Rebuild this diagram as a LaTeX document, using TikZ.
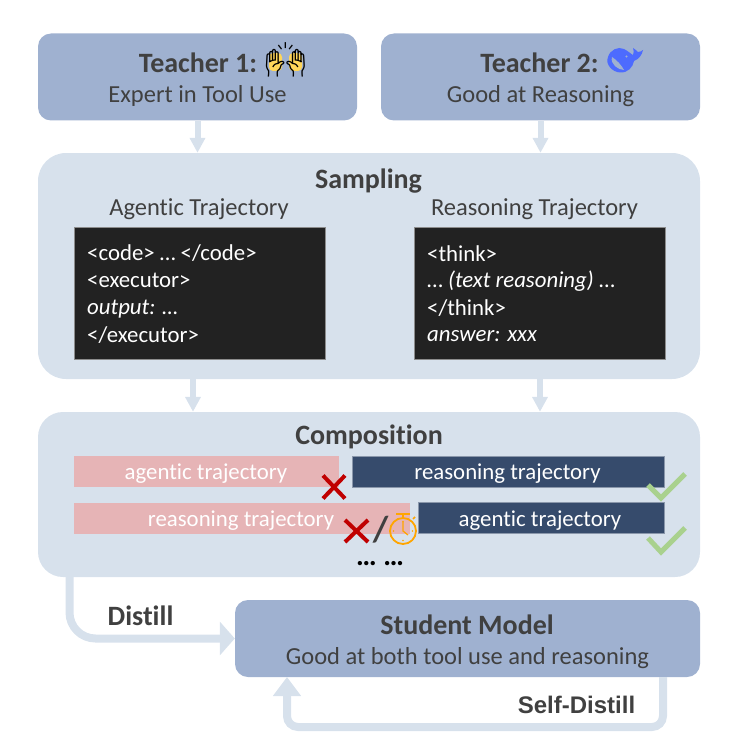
\documentclass[tikz,border=0pt]{standalone}
\usepackage{fontspec}
\setmainfont[Ligatures=NoCommon]{Carlito}
\newfontfamily\emojifont{Noto Emoji}
\newfontfamily\arialfont{Liberation Sans}
\usetikzlibrary{arrows.meta}
\definecolor{tealbox}{HTML}{9FB1D0}
\definecolor{paleblue}{HTML}{D7E1EC}
\definecolor{inktext}{HTML}{404040}
\definecolor{codebg}{HTML}{222222}
\definecolor{pinkbar}{HTML}{E6B4B6}
\definecolor{navybar}{HTML}{364B6C}
\definecolor{crossred}{HTML}{C00000}
\definecolor{tickgreen}{HTML}{A9D18E}
\definecolor{watchorange}{HTML}{FFA500}
\definecolor{whaleblue}{HTML}{4D6BFE}
\definecolor{handyellow}{HTML}{FFD65A}
\tikzset{
  modelbox/.style={fill=tealbox, rounded corners=13pt, minimum width=319pt, minimum height=87pt, inner sep=0pt},
  stagebox/.style={fill=paleblue, minimum width=662pt, inner sep=0pt},
  codebox/.style={fill=codebg, draw=black!45, line width=0.6pt, minimum width=251pt, minimum height=132pt, inner sep=0pt},
  codeline/.style={anchor=west, text=white, font=\fontsize{22.8}{26}\selectfont, inner sep=0pt},
  title/.style={text=inktext, font=\fontsize{28}{30}\selectfont\bfseries, inner sep=0pt},
  subtitle/.style={text=inktext, font=\fontsize{24.5}{28}\selectfont, inner sep=0pt},
  bar/.style={inner sep=0pt, minimum height=31pt},
  bartext/.style={text=white, font=\fontsize{22.8}{26}\selectfont, inner sep=0pt},
  pinkstyle/.style={bar, fill=pinkbar},
  navystyle/.style={bar, fill=navybar, draw=black!10!paleblue!60!navybar, line width=0.5pt},
  flow/.style={draw=paleblue, line width=6pt, -{Triangle[width=15pt,length=15pt]}},
  bigflow/.style={draw=paleblue, line width=8pt, rounded corners=26pt, -{Triangle[width=33pt,length=15pt]}},
  cross/.style={draw=crossred, line width=4pt},
  tick/.style={draw=tickgreen, line width=5pt}
}
\begin{document}
\begin{tikzpicture}[x=1pt,y=-1pt]
\useasboundingbox (0,0) rectangle (738,749);
% teachers
\node[modelbox] (teacherone) at (197.5,77) {};
\node[modelbox] (teachertwo) at (540.5,77) {};
\node[title] (teacheronetitle) at (198,63) {Teacher 1:};
\node[subtitle] (teacheronetext) at (197.5,96) {Expert in Tool Use};
\node[title] (teachertwotitle) at (539.5,63) {Teacher 2:};
\node[subtitle] (teachertwotext) at (540.5,96) {Good at Reasoning};
\fill[handyellow, rounded corners=4pt] (269,53) rectangle (282,71);
\fill[handyellow, rounded corners=4pt] (289,53) rectangle (302,71);
\node[text=black, font=\fontsize{34}{34}\emojifont, inner sep=0pt] (hands) at (285.5,60) {🙌};
% whale logo
\fill[whaleblue] (608,57) .. controls (610,50) and (618,46) .. (624,49) .. controls (628,51) and (631,54) .. (633,55)
  .. controls (634,53) and (634,50) .. (633,48) .. controls (636,50) and (637,51) .. (638,52)
  .. controls (640,52) and (642,51) .. (643,50) .. controls (642,55) and (639,59) .. (634,61)
  .. controls (633,67) and (628,73) .. (620,72.5) .. controls (612,72) and (605,64) .. (608,57) -- cycle;
\fill[tealbox] (612,57) .. controls (617,60) and (622,66) .. (624,70) .. controls (618,70) and (610,64) .. (612,57) -- cycle;
\fill[tealbox] (626.5,56.5) circle (1.2);
% sampling
\node[stagebox, rounded corners=28pt, minimum height=226pt] (sampling) at (369,266) {};
\node[title] (samplingtitle) at (368.5,181) {Sampling};
\node[subtitle] (agentichead) at (199,209) {Agentic Trajectory};
\node[subtitle] (reasoninghead) at (534.5,209) {Reasoning Trajectory};
\node[codebox] (agenticcode) at (199.5,293) {};
\node[codebox] (reasoningcode) at (540,293) {};
\node[codeline] (codeone) at (87,253.5) {<code> … </code>};
\node[codeline] (codetwo) at (87,280.5) {<executor>};
\node[codeline] (codethree) at (87,309) {\itshape output: …};
\node[codeline] (codefour) at (87,335) {</executor>};
\node[codeline] (thinkone) at (427,253.5) {<think>};
\node[codeline] (thinktwo) at (427,281.5) {… \textit{(text reasoning)} …};
\node[codeline] (thinkthree) at (427,308) {</think>};
\node[codeline] (thinkfour) at (427,336) {\itshape answer: xxx};
% composition
\node[stagebox, rounded corners=25pt, minimum height=165pt] (composition) at (369,494.5) {};
\node[title] (compositiontitle) at (369,437) {Composition};
\node[pinkstyle, minimum width=265pt] (pinkone) at (206.5,471.5) {};
\node[navystyle, minimum width=312pt] (navyone) at (508,471.5) {};
\node[pinkstyle, minimum width=336pt] (pinktwo) at (242,518) {};
\node[navystyle, minimum width=246pt] (navytwo) at (541,518) {};
\node[bartext] (pinkonetext) at (206,474) {agentic trajectory};
\node[bartext] (navyonetext) at (507.5,474) {reasoning trajectory};
\node[bartext] (pinktwotext) at (241,521) {reasoning trajectory};
\node[bartext] (navytwotext) at (540,521) {agentic trajectory};
\draw[cross] (323,475.5) -- (345,498.5);
\draw[cross] (323,498.5) -- (345,475.5);
\draw[cross] (345,520) -- (368,542);
\draw[cross] (345,542) -- (368,520);
\node[text=inktext, font=\fontsize{36}{36}\selectfont\bfseries, inner sep=0pt] (slash) at (380.5,530) {/};
\draw[watchorange, line width=1.8pt] (403,531) circle (13);
\draw[watchorange, line width=1.8pt] (403,518) -- (403,514);
\draw[watchorange, line width=2.2pt] (396,514) -- (410,514);
\draw[watchorange, line width=1.6pt] (413,519) -- (415,517);
\draw[watchorange, line width=1.2pt] (403,522) -- (403,531) -- (408,535);
\foreach \a in {0,90,180,270} \fill[watchorange] (403,531) ++(\a:9.5) circle (0.8);
\draw[tick] (648,485) -- (661,498) -- (685,474);
\draw[tick] (648,538) -- (661,552) -- (685,528);
\node[text=black, font=\fontsize{29}{29}\selectfont\bfseries, inner sep=0pt] (dots) at (380,563.5) {… …};
% student
\node[fill=tealbox, rounded corners=13pt, minimum width=465pt, minimum height=77pt, inner sep=0pt] (student) at (467.5,638.5) {};
\node[title] (studenttitle) at (467,625) {Student Model};
\node[subtitle] (studenttext) at (467.5,658) {Good at both tool use and reasoning};
% arrows
\coordinate (agenticout) at (193,379);
\coordinate (reasoningout) at (540,379);
\coordinate (distillout) at (69.5,577);
\coordinate (selfout) at (663,677);
\coordinate (selfin) at (287,677);
\draw[flow] (teacherone.south) -- (teacherone.south |- sampling.north);
\draw[flow] (teachertwo.south) -- (teachertwo.south |- sampling.north);
\draw[flow] (agenticout) -- (agenticout |- composition.north);
\draw[flow] (reasoningout) -- (reasoningout |- composition.north);
\draw[bigflow] (distillout) -- (distillout |- student.west) -- (student.west);
\draw[bigflow, rounded corners=11pt, -{Triangle[width=27pt,length=19pt]}] (selfout) -- (663,727) -- (287,727) -- (selfin);
\node[text=inktext, font=\fontsize{28}{30}\selectfont\bfseries, inner sep=0pt] (distilllabel) at (140.5,616) {Distill};
\node[text=inktext, font=\fontsize{24}{26}\arialfont\bfseries, inner sep=0pt] (selflabel) at (576.5,705) {Self-Distill};
\end{tikzpicture}
\end{document}
